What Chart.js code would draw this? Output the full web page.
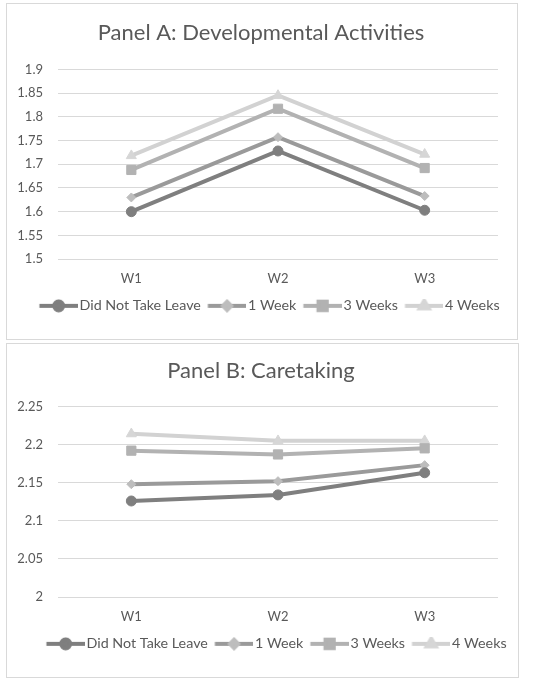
<!DOCTYPE html>
<html>
<head>
<meta charset="utf-8">
<script src="https://cdn.jsdelivr.net/npm/chart.js@4.4.1/dist/chart.umd.min.js"></script>
<style>
  html, body { margin: 0; padding: 0; background: #ffffff; overflow: hidden; }
  .frame { position: absolute; border: 1px solid #d9d9d9; box-sizing: border-box; }
  canvas { position: absolute; }
</style>
</head>
<body>
<div class="frame" style="left:6px;top:3px;width:512px;height:337px"></div>
<div class="frame" style="left:6px;top:343px;width:513px;height:335px"></div>
<canvas id="panelA" width="512" height="337" style="left:6px;top:3px;width:512px;height:337px"></canvas>
<canvas id="panelB" width="512" height="335" style="left:6px;top:343px;width:512px;height:335px"></canvas>
<script>
const waves = ["W1", "W2", "W3"]
const seriesNames = ["Did Not Take Leave", "1 Week", "3 Weeks", "4 Weeks"]

// Panel A: developmental activities
const devNoLeave = [1.600, 1.728, 1.603]
const devOneWeek = [1.630, 1.757, 1.633]
const devThreeWeeks = [1.688, 1.817, 1.692]
const devFourWeeks = [1.718, 1.845, 1.721]
const devAxis = { min: 1.5, max: 1.9, step: 0.05 }

// Panel B: caretaking
const careNoLeave = [2.126, 2.134, 2.163]
const careOneWeek = [2.148, 2.152, 2.173]
const careThreeWeeks = [2.192, 2.187, 2.195]
const careFourWeeks = [2.214, 2.205, 2.205]
const careAxis = { min: 2, max: 2.25, step: 0.05 }

const FONT = "Lato, 'Open Sans', sans-serif"
const TEXT = "#595959"

const seriesStyles = [
  { line: "#7f7f7f", marker: "#7f7f7f", pointStyle: "circle", radius: 5 },
  { line: "#9a9a9a", marker: "#bdbdbd", pointStyle: "rectRot", radius: 4.5 },
  { line: "#b2b2b2", marker: "#b2b2b2", pointStyle: "rect", radius: 6.5 },
  { line: "#d2d2d2", marker: "#d6d6d6", pointStyle: "triangle", radius: 5.8 }
]

// legend swatch: a short line with the marker in its middle.
// the item box is 40 wide; the swatch starts 7px in, leaving the gap
// between legend entries, and stops 2px short of the text
function legendIcon(style) {
  const icon = document.createElement("canvas")
  icon.width = 51
  icon.height = 14
  const ctx = icon.getContext("2d")
  ctx.strokeStyle = style.line
  ctx.lineWidth = 4
  ctx.beginPath()
  ctx.moveTo(12.5, 7)
  ctx.lineTo(51, 7)
  ctx.stroke()
  ctx.fillStyle = style.marker
  ctx.strokeStyle = style.marker
  Chart.helpers.drawPoint(ctx, { pointStyle: style.pointStyle, radius: style.radius * 0.9, rotation: 0, borderWidth: 1 }, 31.75, 7)
  return icon
}

const shiftBoxes = {
  id: "shiftBoxes",
  afterLayout(chart, args, opts) {
    const title = chart.titleBlock
    const legend = chart.legend
    title.left += opts.title
    title.right += opts.title
    legend.left += opts.legend
    legend.right += opts.legend
  }
}

function makeChart(canvasId, titleText, seriesValues, axis, spacing) {
  const datasets = seriesValues.map((values, index) => {
    const style = seriesStyles[index]
    return {
      label: seriesNames[index],
      data: values,
      borderColor: style.line,
      backgroundColor: style.marker,
      borderWidth: 4,
      pointStyle: style.pointStyle,
      pointRadius: style.radius,
      pointBackgroundColor: style.marker,
      pointBorderColor: style.marker,
      pointBorderWidth: 1,
      tension: 0,
      legendIcon: legendIcon(style)
    }
  })

  return new Chart(document.getElementById(canvasId), {
    type: "line",
    data: { labels: waves, datasets },
    plugins: [shiftBoxes],
    options: {
      responsive: false,
      animation: false,
      layout: { padding: { top: 0, left: 0, right: 20, bottom: spacing.bottom } },
      plugins: {
        shiftBoxes: { title: 9, legend: spacing.legendShift },
        title: {
          display: true,
          text: titleText,
          color: TEXT,
          font: { family: FONT, size: 22, weight: "normal" },
          padding: { top: spacing.titleTop, bottom: spacing.titleBottom }
        },
        legend: {
          position: "bottom",
          labels: {
            usePointStyle: true,
            pointStyleWidth: 40,
            padding: 0,
            color: TEXT,
            font: { family: FONT, size: 14.3 },
            generateLabels: (chart) => chart.data.datasets.map((ds, i) => ({
              text: ds.label,
              pointStyle: ds.legendIcon,
              fillStyle: "transparent",
              strokeStyle: "transparent",
              lineWidth: 0,
              hidden: false,
              fontColor: TEXT,
              datasetIndex: i
            }))
          }
        },
        tooltip: { enabled: false }
      },
      scales: {
        x: {
          offset: true,
          grid: { display: false, drawTicks: false },
          border: { display: false },
          ticks: { color: TEXT, padding: 12, font: { family: FONT, size: 13 } }
        },
        y: {
          min: axis.min,
          max: axis.max,
          afterFit: (scale) => { scale.width = 52 },
          grid: { color: "#d9d9d9", lineWidth: 1, drawTicks: false },
          border: { display: false },
          ticks: {
            stepSize: axis.step,
            padding: 15,
            color: TEXT,
            font: { family: FONT, size: 13 },
            callback: (value) => String(Number(value.toFixed(2)))
          }
        }
      }
    }
  })
}

makeChart("panelA", "Panel A: Developmental Activities",
  [devNoLeave, devOneWeek, devThreeWeeks, devFourWeeks], devAxis,
  { titleTop: 17, titleBottom: 23, bottom: 17, legendShift: 14 })

makeChart("panelB", "Panel B: Caretaking",
  [careNoLeave, careOneWeek, careThreeWeeks, careFourWeeks], careAxis,
  { titleTop: 15, titleBottom: 22, bottom: 17, legendShift: 21 })
</script>
</body>
</html>
